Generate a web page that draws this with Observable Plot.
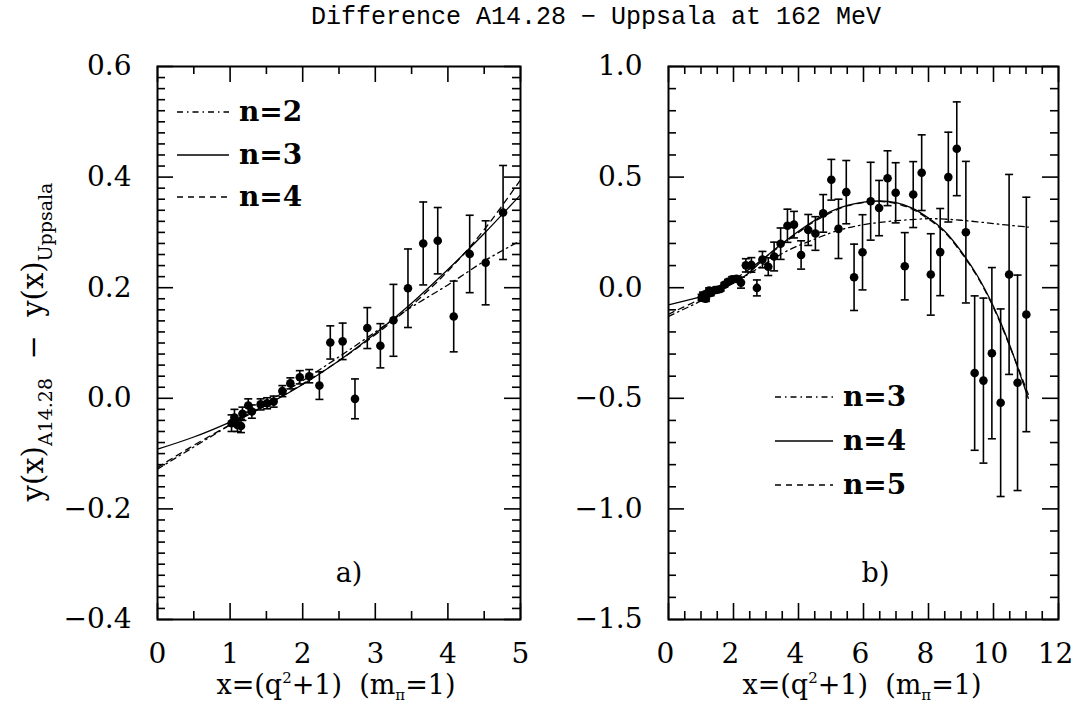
<!DOCTYPE html>
<html><head><meta charset="utf-8">
<script src="https://cdn.jsdelivr.net/npm/d3@7"></script>
<script src="https://cdn.jsdelivr.net/npm/@observablehq/plot@0.6"></script>
<style>
html,body{margin:0;padding:0;background:#fff;}
body{width:1073px;height:706px;position:relative;overflow:hidden;font-family:"DejaVu Serif",serif;color:#000;}
.abs{position:absolute;white-space:nowrap;}
.leg{position:absolute;display:flex;align-items:center;font-weight:bold;font-size:28px;line-height:1;}
.leg svg{margin-right:10px;}
.xl{position:absolute;font-size:27px;line-height:27px;transform:translateX(-50%);white-space:nowrap;}
.xl sup{font-size:15px;line-height:0;vertical-align:0;position:relative;top:-11px;}
.xl sub{font-size:15px;line-height:0;vertical-align:0;position:relative;top:6px;}
</style></head><body>
<div id="title" class="abs" style="left:596px;top:4px;transform:translateX(-50%);font-family:'Liberation Mono',monospace;font-size:25px;line-height:28px;">Difference A14.28 − Uppsala at 162 MeV</div>
<div id="left" class="abs" style="left:0;top:0"></div>
<div id="right" class="abs" style="left:540px;top:0"></div>
<div id="ylab" class="abs" style="left:34px;top:342px;transform:translate(-50%,-50%) rotate(-90deg);font-size:29px;line-height:30px;">y(x)<span style="font-size:19px;position:relative;top:9px;">A14.28</span>&nbsp; −&nbsp; y(x)<span style="font-size:19px;position:relative;top:9px;">Uppsala</span></div>
<div class="xl" style="left:336px;top:671px;">x=(q<sup>2</sup>+1)&nbsp; (m<sub>π</sub>=1)</div>
<div class="xl" style="left:862px;top:671px;">x=(q<sup>2</sup>+1)&nbsp; (m<sub>π</sub>=1)</div>
<div id="legA"></div>
<div id="legB"></div>
<script>
// ---- measured points (shared by both panels) ----
const dataX = [1.02,1.06,1.10,1.15,1.17,1.25,1.30,1.42,1.51,1.60,1.72,1.83,1.96,2.09,2.23,2.38,2.55,2.72,2.89,3.07,3.25,3.45,3.66,3.86,4.08,4.30,4.52,4.76,
  5.01,5.23,5.47,5.71,5.97,6.22,6.48,6.74,6.99,7.27,7.53,7.79,8.07,8.36,8.61,8.87,9.15,9.42,9.69,9.95,10.22,10.48,10.74,11.01];
const dataY = [-0.045,-0.035,-0.048,-0.050,-0.028,-0.013,-0.024,-0.011,-0.009,-0.006,0.013,0.027,0.038,0.040,0.023,0.101,0.103,-0.001,0.127,0.095,0.141,0.199,0.280,0.285,0.148,0.261,0.245,0.336,
  0.488,0.266,0.432,0.047,0.160,0.391,0.360,0.495,0.429,0.097,0.421,0.520,0.060,0.161,0.500,0.628,0.251,-0.386,-0.420,-0.296,-0.520,0.060,-0.430,-0.121];
const dataErr = [0.015,0.015,0.012,0.012,0.012,0.012,0.012,0.010,0.010,0.010,0.010,0.010,0.012,0.012,0.025,0.030,0.033,0.036,0.037,0.040,0.065,0.071,0.075,0.060,0.064,0.070,0.076,0.085,
  0.092,0.134,0.143,0.150,0.170,0.176,0.125,0.124,0.136,0.152,0.149,0.171,0.184,0.197,0.203,0.212,0.320,0.349,0.373,0.387,0.424,0.452,0.487,0.530];

// ---- fitted curves, panel a ----
const curveXA = [0,0.5,1,1.5,2,2.5,3,3.5,4,4.5,5];
const fitA_n2 = [-0.128,-0.088,-0.048,-0.008,0.032,0.075,0.120,0.165,0.205,0.248,0.285];
const fitA_n3 = [-0.092,-0.070,-0.043,-0.012,0.025,0.068,0.117,0.172,0.233,0.298,0.368];
const fitA_n4 = [-0.125,-0.085,-0.048,-0.012,0.026,0.068,0.115,0.168,0.230,0.305,0.395];

// ---- fitted curves, panel b ----
const curveXB = [0,0.5,1,1.5,2,2.5,3,3.5,4,4.5,5,5.5,6,6.5,7,7.5,8,8.5,9,9.5,10,10.5,11,11.05];
const fitB_n3 = [-0.130,-0.095,-0.060,-0.020,0.022,0.065,0.110,0.155,0.190,0.220,0.248,0.270,0.285,0.295,0.303,0.308,0.312,0.310,0.305,0.298,0.290,0.282,0.275,0.274];
const fitB_n4 = [-0.078,-0.060,-0.040,-0.015,0.020,0.070,0.140,0.200,0.255,0.305,0.345,0.372,0.387,0.392,0.385,0.360,0.315,0.255,0.165,0.055,-0.085,-0.260,-0.470,-0.490];
const fitB_n5 = [-0.120,-0.085,-0.050,-0.010,0.035,0.085,0.140,0.195,0.250,0.300,0.340,0.370,0.385,0.390,0.380,0.355,0.310,0.250,0.160,0.050,-0.090,-0.265,-0.455,-0.475];

// ---- axes ----
const xTicksA = [0,1,2,3,4,5];
const yTicksA = [-0.4,-0.2,0.0,0.2,0.4,0.6];
const xTicksB = [0,2,4,6,8,10,12];
const yTicksB = [-1.5,-1.0,-0.5,0.0,0.5,1.0];

const points = dataX.map((x,i)=>({x, y:dataY[i], e:dataErr[i]}));
const curveRows = (xs, ys) => xs.map((x,i)=>({x, y:ys[i]}));

const cap = {draw(ctx, size){ const w = Math.sqrt(size/Math.PI); ctx.moveTo(-w,0); ctx.lineTo(w,0); }};

const DASHDOT = "6,4,1.5,4";
const DASHED = "6,5";

function panel({width, ml, mr, xDomain, yDomain, xTicks, yTicks, xMinor, yMinor, xFmt, xDx, pts, curves, label, labelDx}) {
  const H = 706, mt = 66, mb = 87;
  const pw = width - ml - mr, ph = H - mt - mb;
  const majLen = 16, minLen = 8;
  const tk = {stroke:"black", strokeWidth:1.6};
  return Plot.plot({
    width, height:H, marginTop:mt, marginBottom:mb, marginLeft:ml, marginRight:mr,
    x:{domain:xDomain}, y:{domain:yDomain},
    style:{fontFamily:"DejaVu Serif", fontSize:"28px", background:"transparent", color:"black", overflow:"visible"},
    marks:[
      // inward ticks on all four sides
      Plot.tickX(xMinor, {x:d=>d, insetTop:ph-minLen, ...tk}),
      Plot.tickX(xTicks, {x:d=>d, insetTop:ph-majLen, ...tk}),
      Plot.tickX(xMinor, {x:d=>d, insetBottom:ph-minLen, ...tk}),
      Plot.tickX(xTicks, {x:d=>d, insetBottom:ph-majLen, ...tk}),
      Plot.tickY(yMinor, {y:d=>d, insetRight:pw-minLen, ...tk}),
      Plot.tickY(yTicks, {y:d=>d, insetRight:pw-majLen, ...tk}),
      Plot.tickY(yMinor, {y:d=>d, insetLeft:pw-minLen, ...tk}),
      Plot.tickY(yTicks, {y:d=>d, insetLeft:pw-majLen, ...tk}),
      Plot.axisX({ticks:xTicks, tickSize:0, tickPadding:24, tickFormat:xFmt, label:null, fontSize:28, dx:xDx}),
      Plot.axisY({ticks:yTicks, tickSize:0, tickPadding:26, tickFormat:d3.format(".1f"), label:null, fontSize:28}),
      Plot.frame({stroke:"black", strokeWidth:2}),
      ...curves.map(c => Plot.line(c.rows, {x:"x", y:"y", stroke:"black", strokeWidth:1.3, strokeDasharray:c.dash, curve:"natural", clip:true})),
      Plot.ruleX(pts, {x:"x", y1:d=>d.y-d.e, y2:d=>d.y+d.e, stroke:"black", strokeWidth:1.6, clip:true}),
      Plot.dot(pts, {x:"x", y:d=>d.y+d.e, symbol:cap, r:4, stroke:"black", strokeWidth:1.6, clip:true}),
      Plot.dot(pts, {x:"x", y:d=>d.y-d.e, symbol:cap, r:4, stroke:"black", strokeWidth:1.6, clip:true}),
      Plot.dot(pts, {x:"x", y:"y", r:4.3, fill:"black", stroke:null}),
      Plot.text([label], {text:d=>d, frameAnchor:"bottom", dx:labelDx, dy:-38, fontSize:27})
    ]
  });
}

document.getElementById("left").append(panel({
  width:540, ml:157, mr:20, xDomain:[0,5], yDomain:[-0.4,0.6],
  xTicks:xTicksA, yTicks:yTicksA,
  xMinor:d3.range(0.5,5,1), yMinor:d3.range(-0.38,0.6,0.02).filter(v=>Math.abs(Math.round(v*5)-v*5)>1e-6),
  xFmt:d3.format("d"), xDx:0,
  pts:points.filter(p=>p.x<5),
  curves:[{rows:curveRows(curveXA,fitA_n2),dash:DASHDOT},{rows:curveRows(curveXA,fitA_n3),dash:null},{rows:curveRows(curveXA,fitA_n4),dash:DASHED}],
  label:"a)", labelDx:10
}));

document.getElementById("right").append(panel({
  width:533, ml:128, mr:15, xDomain:[0,12], yDomain:[-1.5,1.0],
  xTicks:xTicksB, yTicks:yTicksB,
  xMinor:d3.range(0.5,12,0.5).filter(v=>v%2!==0), yMinor:d3.range(-1.4,1.0,0.1).filter(v=>Math.abs(Math.round(v*2)-v*2)>1e-6),
  xFmt:d3.format("d"), xDx:-3,
  pts:points,
  curves:[{rows:curveRows(curveXB,fitB_n3),dash:DASHDOT},{rows:curveRows(curveXB,fitB_n4),dash:null},{rows:curveRows(curveXB,fitB_n5),dash:DASHED}],
  label:"b)", labelDx:12
}));

// ---- legends ----
const legA = [{t:"n=2",dash:DASHDOT,y:112},{t:"n=3",dash:null,y:155},{t:"n=4",dash:DASHED,y:197}];
const legB = [{t:"n=3",dash:DASHDOT,y:397},{t:"n=4",dash:null,y:441},{t:"n=5",dash:DASHED,y:485}];
function legend(id, rows, left, w){
  const el = document.getElementById(id);
  rows.forEach(r=>{
    const d = document.createElement("div");
    d.className="leg";
    d.style.left = left+"px"; d.style.top = (r.y-14)+"px"; d.style.height="28px";
    d.innerHTML = `<svg width="${w}" height="6"><line x1="0" x2="${w}" y1="3" y2="3" stroke="black" stroke-width="1.3" ${r.dash?`stroke-dasharray="${r.dash}"`:""}/></svg>${r.t}`;
    el.append(d);
  });
}
legend("legA", legA, 177, 52);
legend("legB", legB, 775, 58);
</script>
</body></html>
